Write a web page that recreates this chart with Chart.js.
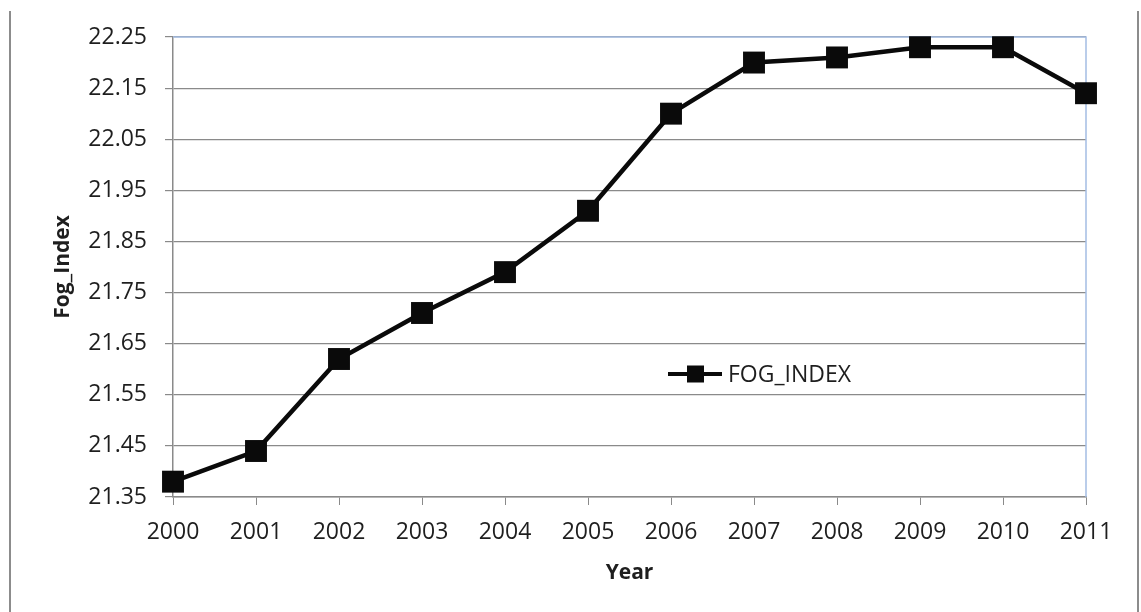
<!DOCTYPE html>
<html>
<head>
<meta charset="utf-8">
<title>FOG_INDEX by Year</title>
<script src="https://cdn.jsdelivr.net/npm/chart.js@4.4.1/dist/chart.umd.min.js"></script>
<style>
  html, body { margin: 0; padding: 0; background: #ffffff; }
  canvas { display: block; }
</style>
</head>
<body>
<canvas id="fog" width="1141" height="612"></canvas>
<script>
// Years on the horizontal axis
const years = ['2000', '2001', '2002', '2003', '2004', '2005', '2006', '2007', '2008', '2009', '2010', '2011'];
// Average Fog index per year
const fogIndex = [21.38, 21.44, 21.62, 21.71, 21.79, 21.91, 22.10, 22.20, 22.21, 22.23, 22.23, 22.14];
// Value axis ticks
const yTicks = [21.35, 21.45, 21.55, 21.65, 21.75, 21.85, 21.95, 22.05, 22.15, 22.25];
const seriesName = 'FOG_INDEX';

const FONT = '"Open Sans", "Noto Sans", "Liberation Sans", sans-serif';
const TEXT = '#1e1e1e';
const GRID = '#8a8a8a';
const FRAME_BLUE = '#a4bde3';

// Page frame lines and the blue top/right plot edges
const framePlugin = {
  id: 'frame',
  beforeDraw(chart) {
    const c = chart.ctx;
    c.save();
    c.fillStyle = '#ffffff';
    c.fillRect(0, 0, chart.width, chart.height);
    c.strokeStyle = '#8c8c8c';
    c.lineWidth = 2;
    c.beginPath();
    c.moveTo(10, 11); c.lineTo(10, chart.height);
    c.moveTo(1138, 11); c.lineTo(1138, chart.height);
    c.stroke();
    c.restore();
  },
  beforeDatasetsDraw(chart) {
    const a = chart.chartArea;
    const c = chart.ctx;
    c.save();
    c.strokeStyle = FRAME_BLUE;
    c.lineWidth = 1.5;
    c.beginPath();
    c.moveTo(a.left, a.top);
    c.lineTo(a.right, a.top);
    c.lineTo(a.right, a.bottom);
    c.stroke();
    c.restore();
  }
};

// Legend drawn inside the plot area
const insideLegend = {
  id: 'insideLegend',
  afterDatasetsDraw(chart) {
    const a = chart.chartArea;
    const c = chart.ctx;
    const x0 = a.left + 495, y0 = a.top + 337;
    c.save();
    c.strokeStyle = '#0a0a0a';
    c.lineWidth = 4;
    c.beginPath();
    c.moveTo(x0, y0); c.lineTo(x0 + 54, y0);
    c.stroke();
    c.fillStyle = '#0a0a0a';
    c.fillRect(x0 + 19, y0 - 8.5, 17, 17);
    c.fillStyle = TEXT;
    c.font = '23px ' + FONT;
    c.textBaseline = 'middle';
    c.textAlign = 'left';
    c.fillText(chart.data.datasets[0].label, x0 + 60, y0 + 1);
    c.restore();
  }
};

new Chart(document.getElementById('fog'), {
  type: 'line',
  data: {
    labels: years,
    datasets: [{
      label: seriesName,
      data: fogIndex,
      borderColor: '#0a0a0a',
      backgroundColor: '#0a0a0a',
      borderWidth: 4.5,
      pointStyle: 'rect',
      pointRadius: 15.5,
      pointHoverRadius: 15.5,
      pointBorderWidth: 0,
      tension: 0,
      clip: false
    }]
  },
  options: {
    responsive: false,
    animation: false,
    devicePixelRatio: 1,
    layout: { padding: { left: 20, right: 55, top: 37, bottom: 0 } },
    plugins: {
      legend: { display: false },
      tooltip: { enabled: false }
    },
    scales: {
      x: {
        type: 'category',
        offset: false,
        grid: {
          drawOnChartArea: false,
          drawTicks: true,
          tickLength: 8,
          color: GRID
        },
        border: { display: true, color: GRID, width: 1.5 },
        ticks: { color: TEXT, font: { family: FONT, size: 23 }, padding: 14, maxRotation: 0, autoSkip: false },
        title: {
          display: true,
          text: 'Year',
          color: TEXT,
          font: { family: FONT, size: 21, weight: 'bold' },
          padding: { top: 0, bottom: 26 }
        },
        afterFit(scale) { scale.height = 115; }
      },
      y: {
        type: 'linear',
        min: 21.35,
        max: 22.25,
        afterBuildTicks(scale) { scale.ticks = yTicks.map(v => ({ value: v })); },
        grid: {
          drawOnChartArea: true,
          drawTicks: true,
          tickLength: 8,
          color: GRID,
          lineWidth: 1.2
        },
        border: { display: true, color: GRID, width: 1.5 },
        ticks: {
          color: TEXT,
          font: { family: FONT, size: 23 },
          padding: 18,
          callback: v => Number(v).toFixed(2)
        },
        title: {
          display: true,
          text: 'Fog_Index',
          color: TEXT,
          font: { family: FONT, size: 21, weight: 'bold' },
          padding: { top: 30, bottom: 0 }
        },
        afterFit(scale) { scale.width = 153; }
      }
    }
  },
  plugins: [framePlugin, insideLegend]
});
</script>
</body>
</html>
